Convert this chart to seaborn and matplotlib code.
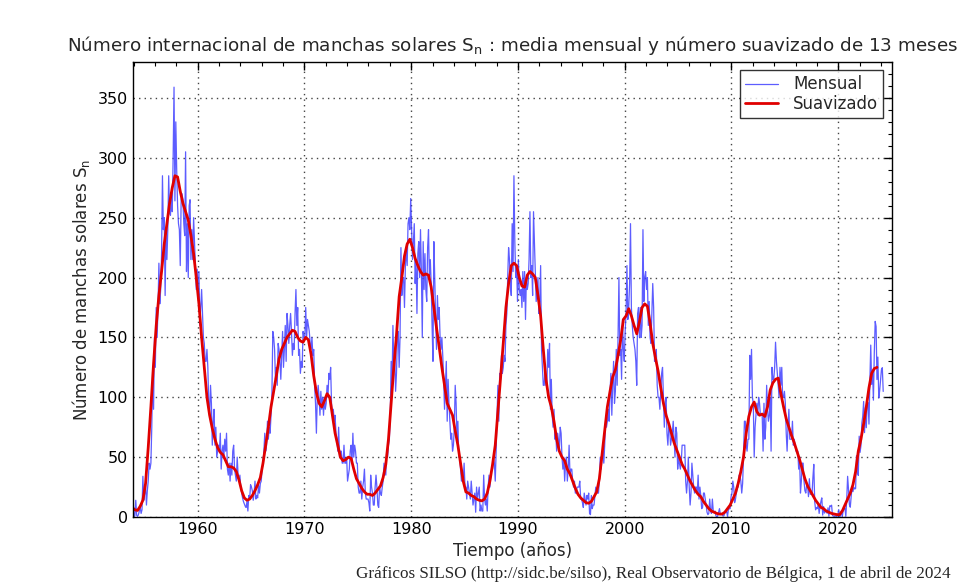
import numpy as np
import pandas as pd
import matplotlib
matplotlib.use("Agg")
import matplotlib.pyplot as plt
from matplotlib.ticker import MultipleLocator
import seaborn as sns

# Monthly mean sunspot number, Oct 1953 .. Mar 2024 (one row per year)
monthly_1950s = [
    4.0, 2.5, 12.0,
    0.5, 1.0, 14.0, 1.5, 0.5, 2.0, 5.0, 8.0, 3.0, 6.0, 34.0, 14.0,
    20, 27, 10, 22, 30, 45, 40, 45, 75, 125, 90, 150,
    125, 175, 150, 175, 212, 178, 190, 220, 285, 240, 250, 185,
    240, 215, 240, 285, 254, 252, 271, 255, 300, 359, 264, 330,
    290, 260, 245, 240, 210, 265, 270, 265, 245, 235, 305, 205,
    245, 200, 260, 265, 215, 240, 215, 250, 230, 210, 190, 207,
]
monthly_1960s = [
    185, 205, 160, 175, 190, 170, 150, 145, 130, 130, 140, 125,
    95, 85, 110, 95, 60, 80, 90, 60, 75, 50, 55, 60,
    55, 70, 40, 55, 60, 50, 65, 55, 70, 40, 35, 45,
    30, 45, 35, 55, 60, 40, 35, 30, 50, 35, 30, 35,
    25, 20, 16, 13, 11, 9, 8, 13, 5, 18, 15, 27,
    25, 22, 14, 20, 30, 15, 18, 16, 27, 20, 28, 30,
    40, 45, 55, 70, 55, 60, 80, 65, 75, 70, 85, 102,
    155, 150, 140, 115, 125, 110, 145, 140, 130, 115, 135, 155,
    125, 140, 160, 130, 170, 160, 145, 160, 170, 155, 135, 145,
    140, 170, 190, 160, 175, 135, 140, 120, 130, 125, 155, 150,
]
monthly_1970s = [
    150, 175, 150, 165, 160, 155, 145, 140, 150, 135, 140, 110,
    95, 70, 100, 110, 100, 85, 105, 90, 100, 85, 100, 90,
    95, 110, 100, 120, 115, 125, 95, 85, 90, 80, 85, 70,
    65, 55, 75, 50, 55, 55, 45, 45, 60, 45, 45, 50,
    30, 35, 40, 55, 60, 45, 70, 50, 60, 55, 45, 45,
    25, 20, 20, 30, 15, 25, 30, 40, 20, 15, 15, 15,
    12, 5, 35, 25, 20, 10, 10, 25, 35, 25, 10, 8,
    25, 20, 18, 25, 30, 45, 40, 35, 55, 50, 60, 65,
    85, 130, 110, 160, 130, 135, 105, 120, 150, 155, 125, 150,
    225, 185, 200, 200, 175, 210, 225, 210, 245, 250, 240, 266,
]
monthly_1980s = [
    240, 215, 230, 245, 195, 215, 170, 220, 230, 200, 240, 205,
    150, 230, 190, 220, 190, 180, 225, 240, 200, 215, 195, 160,
    130, 230, 200, 165, 140, 185, 165, 175, 150, 140, 150, 135,
    115, 90, 110, 130, 80, 115, 95, 80, 65, 70, 55, 60,
    75, 110, 95, 65, 80, 50, 50, 40, 30, 35, 30, 45,
    25, 25, 15, 30, 25, 20, 15, 30, 20, 10, 15, 20,
    4, 25, 15, 20, 25, 5, 10, 5, 5, 35, 15, 10,
    15, 5, 25, 35, 25, 35, 40, 40, 50, 45, 30, 55,
    85, 110, 80, 120, 115, 135, 120, 125, 135, 130, 160, 170,
    200, 225, 215, 195, 185, 245, 205, 285, 230, 200, 210, 180,
]
monthly_1990s = [
    215, 190, 185, 190, 175, 205, 180, 205, 165, 200, 190, 195,
    215, 255, 200, 210, 185, 255, 230, 205, 180, 190, 200, 170,
    180, 210, 140, 125, 110, 110, 125, 110, 110, 140, 125, 145,
    90, 115, 85, 75, 90, 65, 70, 55, 70, 65, 55, 75,
    70, 50, 40, 50, 30, 45, 50, 30, 40, 60, 35, 40,
    40, 30, 25, 30, 20, 20, 25, 25, 25, 30, 15, 15,
    12, 8, 20, 15, 10, 18, 15, 20, 3, 2, 18, 7,
    10, 10, 18, 25, 20, 20, 20, 30, 50, 40, 50, 55,
    45, 60, 80, 75, 80, 90, 80, 105, 120, 85, 110, 130,
    95, 105, 140, 110, 150, 200, 135, 140, 115, 165, 140, 130,
]
monthly_2000s = [
    155, 170, 210, 165, 175, 195, 245, 175, 160, 150, 145, 140,
    130, 110, 170, 175, 150, 175, 150, 160, 240, 180, 200, 205,
    190, 200, 160, 180, 150, 145, 170, 195, 175, 130, 130, 140,
    110, 100, 100, 90, 105, 120, 125, 100, 75, 95, 100, 70,
    60, 75, 75, 60, 65, 70, 80, 65, 50, 75, 70, 40,
    50, 45, 40, 45, 60, 60, 60, 60, 30, 20, 30, 50,
    25, 10, 20, 45, 35, 25, 20, 25, 25, 20, 35, 15,
    25, 18, 7, 8, 20, 20, 15, 10, 4, 2, 3, 15,
    5, 3, 15, 5, 4, 5, 1, 0, 1, 4, 7, 2,
    2, 2, 1, 1, 4, 4, 5, 0.5, 6, 7, 7, 17,
]
monthly_2010s = [
    20, 30, 25, 12, 15, 20, 25, 25, 35, 35, 30, 20,
    28, 50, 80, 80, 60, 55, 65, 65, 135, 115, 140, 100,
    95, 50, 75, 85, 95, 85, 100, 95, 85, 85, 85, 55,
    95, 65, 75, 110, 90, 80, 85, 100, 55, 125, 115, 115,
    125, 146, 130, 120, 110, 100, 125, 110, 125, 100, 100, 105,
    95, 70, 55, 75, 90, 65, 65, 65, 80, 60, 65, 60,
    55, 55, 55, 40, 50, 20, 30, 45, 45, 30, 22, 20,
    27, 27, 17, 32, 19, 19, 19, 33, 44, 13, 6, 8,
    7, 11, 3, 9, 13, 16, 1.6, 8.8, 3.3, 4.9, 4.9, 3.1,
    7.7, 0.8, 9.4, 9.1, 9.9, 1.2, 0.9, 0.5, 1.1, 0.4, 0.5, 1.5,
]
monthly_2020s = [
    6.2, 0.2, 1.5, 5.2, 0.2, 5.8, 6.1, 7.5, 0.6, 14.4, 34.0, 23.1,
    10.4, 8.2, 17.2, 24.5, 21.2, 25.0, 23.4, 23.8, 51.3, 37.9, 34.8, 67.5,
    54.0, 59.7, 78.5, 84.1, 96.5, 70.5, 91.4, 74.6, 96.0, 95.5, 77.6, 113.1,
    143.6, 110.9, 122.6, 97.6, 137.4, 163.4, 159.1, 114.8, 133.6, 99.4, 105.4, 114.2,
    123.0, 124.7, 104.9,
]

# 13-month smoothed sunspot number, sampled every quarter from late 1953
smooth_1950s = [8, 6, 5.5, 9, 14, 28, 58, 92, 128, 160, 185, 205, 228,
                245, 262, 275, 285, 284, 272, 262, 255, 248, 235, 220, 200]
smooth_1960s = [178, 150, 125, 100, 85, 74, 65, 58, 54, 52, 47, 42,
                42, 41, 38, 31, 22, 16, 14, 15, 18, 22, 27, 33,
                45, 60, 75, 92, 105, 118, 132, 140, 145, 150, 153, 156,
                155, 150, 147, 146]
smooth_1970s = [150, 148, 136, 118, 104, 95, 92, 97, 103, 100, 85, 70,
                60, 50, 47, 48, 50, 49, 40, 32, 28, 24, 21, 19,
                19, 18, 20, 23, 26, 33, 44, 65, 95, 125, 152, 184,
                200, 218, 228, 232]
smooth_1980s = [225, 216, 210, 205, 202, 203, 202, 192, 175, 158, 142, 125,
                110, 95, 90, 85, 72, 60, 45, 30, 21, 20, 18, 17,
                15, 14, 13.5, 15, 20, 30, 44, 60, 88, 115, 145, 175,
                195, 210, 212, 210]
smooth_1990s = [200, 193, 192, 202, 205, 203, 200, 185, 168, 140, 115, 100,
                92, 80, 65, 55, 50, 47, 40, 36, 30, 24, 19, 16,
                14, 12, 11.5, 13, 17, 21, 32, 52, 72, 92, 105, 117,
                123, 135, 148, 165]
smooth_2000s = [168, 174, 168, 160, 153, 163, 175, 178, 176, 162, 145, 133,
                122, 108, 95, 85, 78, 70, 62, 56, 50, 44, 40, 35,
                30, 26, 22, 19, 17, 13, 10, 7, 5, 4, 3, 2.5,
                2.5, 4, 7, 10]
smooth_2010s = [15, 20, 28, 38, 50, 70, 84, 92, 96, 88, 85, 86,
                84, 92, 106, 112, 115, 116, 103, 92, 82, 75, 68, 62,
                55, 48, 40, 32, 26, 22, 18, 14, 11, 8, 7, 5,
                4, 3, 2.5, 2]
smooth_2020s = [2, 5, 10, 15, 20, 27, 38, 55, 65, 78, 92, 108,
                120, 124, 125]

monthly = np.array(monthly_1950s + monthly_1960s + monthly_1970s + monthly_1980s
                   + monthly_1990s + monthly_2000s + monthly_2010s + monthly_2020s,
                   dtype=float)
smoothed = np.array(smooth_1950s + smooth_1960s + smooth_1970s + smooth_1980s
                    + smooth_1990s + smooth_2000s + smooth_2010s + smooth_2020s,
                    dtype=float)

# decimal-year positions: monthly series starts in October 1953, mid-month
t_month = 1953 + (9.5 + np.arange(len(monthly))) / 12.0
t_smooth = 1953.875 + 0.25 * np.arange(len(smoothed))

df_m = pd.DataFrame({"t": t_month, "sn": monthly})
df_s = pd.DataFrame({"t": t_smooth, "sn": smoothed})

sns.set_style("white")
plt.rcParams["font.family"] = ["DejaVu Sans"]
plt.rcParams["mathtext.default"] = "regular"

fig = plt.figure(figsize=(9.65, 5.85), dpi=100)
ax = fig.add_axes([0.1375, 0.1162, 0.7865, 0.7778])

sns.lineplot(data=df_m, x="t", y="sn", ax=ax, color="#4040ff", alpha=0.85,
             linewidth=0.9, estimator=None, label="Mensual")
sns.lineplot(data=df_s, x="t", y="sn", ax=ax, color="#e00000",
             linewidth=2.0, estimator=None, label="Suavizado")

ax.set_xlim(1953.92, 2025.0)
ax.set_ylim(0, 380)
ax.xaxis.set_major_locator(MultipleLocator(10))
ax.xaxis.set_minor_locator(MultipleLocator(2))
ax.yaxis.set_major_locator(MultipleLocator(50))
ax.yaxis.set_minor_locator(MultipleLocator(10))
ax.tick_params(which="both", direction="in", top=True, right=True,
               labelsize=11.5, colors="black")
ax.tick_params(which="major", length=6, width=1)
ax.tick_params(which="minor", length=3, width=0.8)
ax.grid(True, which="major", color="#444444", linestyle=(0, (1, 3)),
        linewidth=1.0)
for sp in ax.spines.values():
    sp.set_color("black")
    sp.set_linewidth(1.0)

ax.set_xlabel("Tiempo (años)", fontsize=12)
ax.set_ylabel("Número de manchas solares S$_n$", fontsize=12)
ax.set_title("Número internacional de manchas solares S$_n$ : media mensual "
             "y número suavizado de 13 meses", fontsize=13.25, pad=8)

leg = ax.legend(loc="upper right", fontsize=12, frameon=True, fancybox=False,
                edgecolor="black", handlelength=2.0, borderpad=0.3,
                labelspacing=0.1, handletextpad=0.9)
leg.get_frame().set_linewidth(1.0)

fig.text(0.985, 0.012,
         "Gráficos SILSO (http://sidc.be/silso), Real Observatorio de Bélgica, "
         "1 de abril de 2024",
         ha="right", va="baseline", fontsize=12.3, family="Liberation Serif")

fig.savefig("out.png", dpi=100, facecolor="white")
